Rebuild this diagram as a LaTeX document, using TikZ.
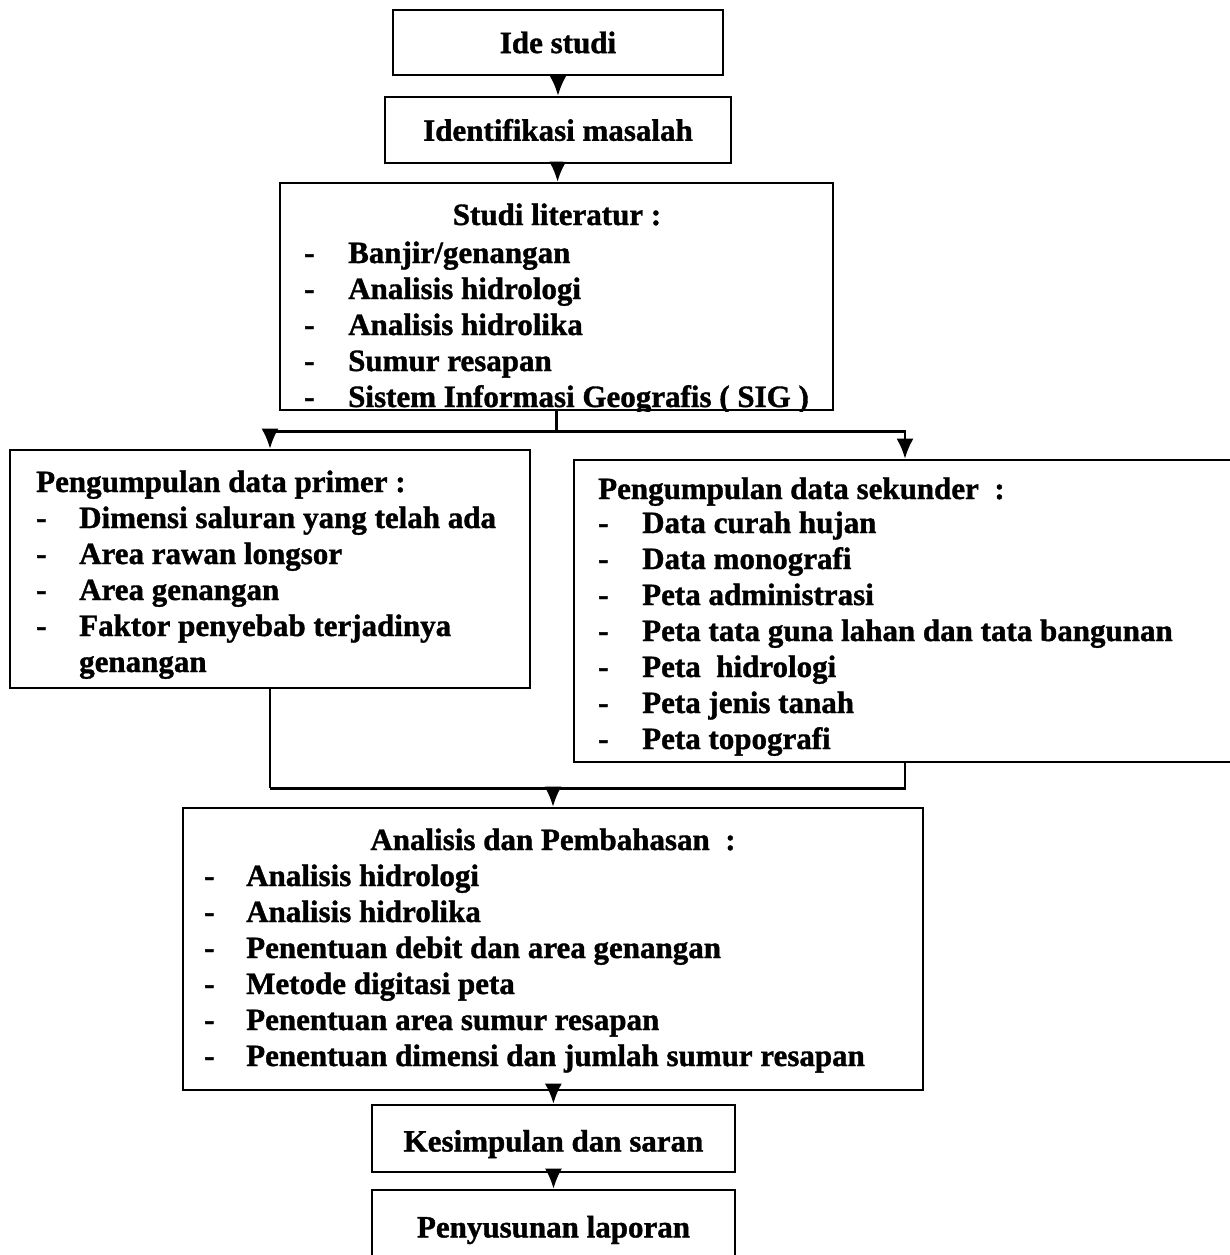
\documentclass[tikz,border=0pt]{standalone}
\usepackage{fontspec}
\setmainfont{Liberation Serif}[BoldFeatures={FakeBold=1.2}]
\usetikzlibrary{arrows.meta}
\tikzset{>={Latex[length=20pt,width=17pt]}}
\tikzset{box/.style={draw,line width=2.6pt,inner sep=0pt,font=\fontsize{31}{36}\selectfont\bfseries},
    txt/.style={font=\fontsize{31}{36}\selectfont\bfseries,anchor=base west,inner sep=0pt}}

\begin{document}
\begin{tikzpicture}[x=1pt,y=-1pt,line width=2.4pt]
    \useasboundingbox(0,0)rectangle(1229,1255);
    % single line boxes
    \node[box,minimum width=330,minimum height=65](ide)at(558,42.5){Ide studi};
    \node[box,minimum width=346,minimum height=66](idf)at(558,130){Identifikasi masalah};
    \node[box,minimum width=363,minimum height=67,text height=33,text depth=7](kes)at(553.5,1138.5){Kesimpulan dan saran};
    \node[box,minimum width=363,minimum height=80](lap)at(553.5,1230){Penyusunan laporan};
    % list boxes
    \node[box,minimum width=553,minimum height=227](lit)at(556.5,296.5){};
    \node[box,minimum width=520,minimum height=238](prim)at(270,569){};
    \node[box,minimum width=662,minimum height=302](sek)at(905,611){};
    \node[box,minimum width=740,minimum height=282](anl)at(553,949){};
    % studi literatur
    \node[txt,anchor=base](lit-h)at(557,225){Studi literatur :};
    \begin{scope}
        \clip(lit.north west)rectangle(lit.south east);
        \foreach \t [count=\i] in {Banjir/genangan, Analisis hidrologi, Analisis hidrolika,
            Sumur resapan, Sistem Informasi Geografis ( SIG )}{
            \node[txt](lit-\i)at(347,227+36*\i){\t};
            \node[txt](lit-d\i)at(303,227+36*\i){-};
        }
    \end{scope}
    % data primer
    \node[txt](prim-h)at(35,492){Pengumpulan data primer :};
    \foreach \t [count=\i] in {Dimensi saluran yang telah ada, Area rawan longsor,
        Area genangan, Faktor penyebab terjadinya}{
        \node[txt](prim-\i)at(78,492+36*\i){\t};
        \node[txt](prim-d\i)at(35,492+36*\i){-};
    }
    \node[txt](prim-5)at(78,672){genangan};
    % data sekunder
    \node[txt](sek-h)at(597,499){Pengumpulan data sekunder\ \ :};
    \foreach \t [count=\i] in {Data curah hujan, Data monografi, Peta administrasi,
        Peta tata guna lahan dan tata bangunan, Peta\ \ hidrologi, Peta jenis tanah,
        Peta topografi}{
        \node[txt](sek-\i)at(641,497+36*\i){\t};
        \node[txt](sek-d\i)at(597,497+36*\i){-};
    }
    % analisis
    \node[txt,anchor=base](anl-h)at(553,850){Analisis dan Pembahasan\ \ :};
    \foreach \t [count=\i] in {Analisis hidrologi, Analisis hidrolika,
        Penentuan debit dan area genangan, Metode digitasi peta,
        Penentuan area sumur resapan, Penentuan dimensi dan jumlah sumur resapan}{
        \node[txt](anl-\i)at(245,850+36*\i){\t};
        \node[txt](anl-d\i)at(203,850+36*\i){-};
    }
    % connectors
    \draw[->](ide)--(idf);
    \draw[->](idf)--(lit);
    \draw(lit.south)--++(0,20)coordinate(split);
    \draw[->](split)-|(prim.north);
    \draw[->](split)-|(sek.north);
    \draw(prim.south)--++(0,99)coordinate(join);
    \draw(sek.south)--++(0,25)-|(join);
    \draw[->](join-|anl.north)--(anl.north);
    \draw[->](anl)--(kes);
    \draw[->](kes)--(lap);
\end{tikzpicture}
\end{document}
